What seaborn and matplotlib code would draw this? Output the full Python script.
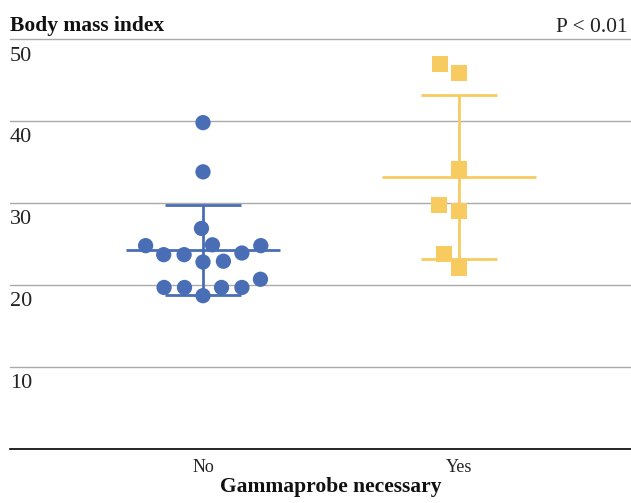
import numpy as np
import pandas as pd
import matplotlib as mpl
mpl.use('Agg')
from matplotlib import pyplot as plt
from matplotlib import transforms
import seaborn as sns

# 데이터
groups = ['No', 'Yes']
bmi_no = [39.8, 33.8, 26.9, 24.8, 24.9, 24.8, 23.9, 23.7, 23.7,
          22.9, 22.8, 20.7, 19.7, 19.7, 19.7, 19.7, 18.7]
bmi_yes = [46.9, 45.9, 34.1, 29.8, 29.0, 23.8, 22.1]
mean_vals = [24.3, 33.2]   # 평균
sd_vals = [5.5, 10.0]      # 표준편차
y_ticks = [10, 20, 30, 40, 50]

# 스타일
blue = '#4A6EB5'
yellow = '#F8CB60'
colors = [blue, yellow]

sns.set_style('white')
plt.rcParams['font.family'] = ['Liberation Serif', 'DejaVu Serif']

fig = plt.figure(figsize=(6.31, 5.03), dpi=100)
ax = fig.add_axes([10 / 631, 54 / 503, 621 / 631, 410 / 503])

df = pd.DataFrame({'group': ['No'] * len(bmi_no) + ['Yes'] * len(bmi_yes),
                   'bmi': bmi_no + bmi_yes})

# 점 그리기 (그룹별 마커 다르게), 안 보이는 테두리로 점 간격 띄우기
sns.swarmplot(data=df[df.group == 'No'], x='group', y='bmi', order=groups,
              color=blue, marker='o', size=11, linewidth=3.0,
              edgecolor='none', zorder=3, ax=ax)
sns.swarmplot(data=df[df.group == 'Yes'], x='group', y='bmi', order=groups,
              color=yellow, marker='s', size=11.5, linewidth=2.9,
              edgecolor='none', zorder=3, ax=ax)

# 평균 + SD 막대
for i, (m, s, c) in enumerate(zip(mean_vals, sd_vals, colors)):
    ax.hlines(m, i - 0.3, i + 0.3, color=c, lw=2, zorder=2)
    ax.hlines([m - s, m + s], i - 0.148, i + 0.148, color=c, lw=2, zorder=2)
    ax.vlines(i, m - s, m + s, color=c, lw=2, zorder=2)

ax.set_xlim(-0.754, 1.672)
ax.set_ylim(0, 50)
ax.set_yticks(y_ticks)
ax.yaxis.grid(True, color='#AAAAAA', lw=1)
ax.xaxis.grid(False)
for gl in ax.get_ygridlines():
    gl.set_clip_on(False)

for side in ['left', 'right', 'top']:
    ax.spines[side].set_visible(False)
ax.spines['bottom'].set_color('black')
ax.spines['bottom'].set_linewidth(1.2)

ax.tick_params(axis='y', length=0, pad=0, labelsize=16, labelcolor='#222222')
ax.tick_params(axis='x', length=0, pad=7, labelsize=13, labelcolor='#222222')
ax.set_ylabel('')
ax.set_xlabel('Gammaprobe necessary', fontsize=15.5, fontweight='bold',
              color='#111111', va='baseline')
ax.xaxis.set_label_coords((331 - 10) / 621, (449 - 492) / 410)

# y축 숫자: 격자선 아래 왼쪽 정렬
shift = transforms.ScaledTranslation(0, -7.5 / 100, fig.dpi_scale_trans)
for lbl in ax.get_yticklabels():
    lbl.set_ha('left')
    lbl.set_va('top')
    lbl.set_transform(lbl.get_transform() + shift)

# 제목 + p값
fig.text(10 / 631, 1 - 31 / 503, 'Body mass index', fontsize=15.5,
         fontweight='bold', color='#111111', va='baseline')
fig.text(628 / 631, 1 - 31.5 / 503, 'P < 0.01', fontsize=15.5,
         color='#222222', ha='right', va='baseline')

fig.savefig('out.png', dpi=100)
